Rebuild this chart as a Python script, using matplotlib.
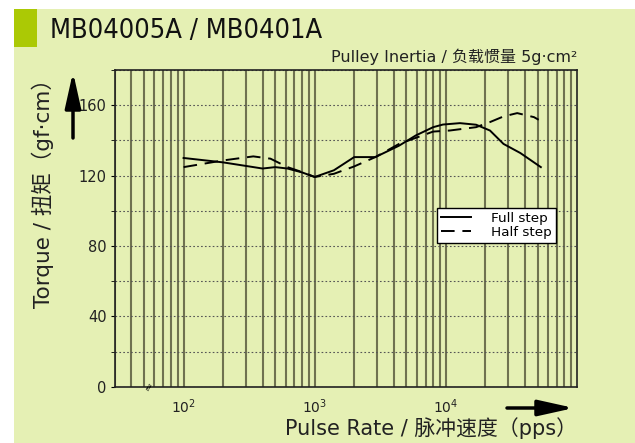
import numpy as np
import matplotlib
matplotlib.use('Agg')
import matplotlib.pyplot as plt
from matplotlib.ticker import LogLocator, MultipleLocator, NullFormatter

plt.rcParams['font.family'] = ['DejaVu Sans', 'Noto Sans CJK SC']

# Data
full_x = [100, 200, 400, 500, 620, 800, 1000, 1400, 2000, 2900, 4400, 5900,
          8000, 9500, 12800, 17000, 21700, 27500, 37000, 53000]
full_y = [130, 127.5, 124, 124.8, 124, 121.8, 119.2, 123, 130.5, 130.5, 137,
          142.8, 147.5, 149, 149.8, 148.9, 145.6, 138, 132.8, 124.8]

half_x = [100, 200, 340, 460, 620, 800, 1000, 1400, 2000, 2900, 4400, 8000,
          10700, 17000, 21700, 27500, 35000, 47000, 51000]
half_y = [124.8, 128.6, 130.9, 129.6, 124.8, 122, 119.2, 121, 125.2, 130.5,
          138, 145, 145.6, 147.5, 150.4, 153.6, 155.5, 153.2, 151.7]

x_ticks = [1e2, 1e3, 1e4]
y_ticks = [0, 40, 80, 120, 160]

bg = '#e5f0b4'
W, H = 635, 443

fig = plt.figure(figsize=(W / 100, H / 100), dpi=100)
fig.patch.set_facecolor('white')

# background panel and green marker
fig.add_artist(plt.Rectangle((14 / W, 0), 1, 1 - 9 / H, transform=fig.transFigure,
                             facecolor=bg, edgecolor='none', zorder=-10))
fig.add_artist(plt.Rectangle((14 / W, 1 - 47 / H), 23 / W, 38 / H, transform=fig.transFigure,
                             facecolor='#abc905', edgecolor='none', zorder=-9))

fig.text(50 / W, 1 - 38 / H, 'MB04005A / MB0401A', fontsize=19.5,
         fontstretch='condensed', color='#111111', va='baseline', ha='left')
fig.text(577 / W, 1 - 62 / H, 'Pulley Inertia / 负载惯量 5g·cm²', fontsize=11.5,
         color='#222222', va='baseline', ha='right')

ax = fig.add_axes([115 / W, 1 - 386.7 / H, 462 / W, 316.7 / H])
ax.set_facecolor(bg)

ax.plot(full_x, full_y, color='black', lw=1.4, label='Full step')
ax.plot(half_x, half_y, color='black', lw=1.4, dashes=(7, 4), label='Half step')

ax.set_xscale('log')
ax.set_xlim(30, 1e5)
ax.set_ylim(0, 180)

ax.set_xticks(x_ticks)
ax.xaxis.set_minor_locator(LogLocator(base=10, subs=np.arange(2, 10), numticks=20))
ax.xaxis.set_minor_formatter(NullFormatter())
ax.set_yticks(y_ticks)
ax.yaxis.set_minor_locator(MultipleLocator(20))

ax.grid(which='both', axis='x', color='#6f7250', lw=1.5, linestyle='-')
ax.grid(which='both', axis='y', color='#555555', lw=0.8, linestyle=(0, (1.5, 2)))
ax.set_axisbelow(True)

ax.tick_params(axis='x', which='both', length=0, pad=8, labelsize=10, labelcolor='#222222')
ax.tick_params(axis='y', which='major', length=3, width=0.8, labelsize=10.5,
               labelcolor='#222222', pad=3)
ax.tick_params(axis='y', which='minor', length=3, width=0.6)
for s in ax.spines.values():
    s.set_color('#222222')
    s.set_linewidth(1.2)

ax.text(55, 0, '≈', rotation=60, fontsize=8, ha='center', va='center', clip_on=False)

leg = ax.legend(loc='upper left', bbox_to_anchor=(0.697, 0.564), fontsize=9.7,
                frameon=True, fancybox=False, edgecolor='black', facecolor='white',
                framealpha=1, handlelength=2.2, handletextpad=1.5, borderpad=0.3,
                labelspacing=0.05, borderaxespad=0)
leg.get_frame().set_linewidth(1.0)

fig.text(43 / W, 1 - 188.5 / H, 'Torque / 扭矩（gf·cm）', rotation=90, fontsize=15.5,
         color='#222222', ha='center', va='center')
fig.text(577 / W, 1 - 428 / H, 'Pulse Rate / 脉冲速度（pps）', fontsize=15,
         color='#222222', ha='right', va='center')

arrow = dict(arrowstyle='-|>,head_length=1.8,head_width=0.4', lw=2.5,
             color='black', mutation_scale=12, shrinkA=0, shrinkB=0)
ax.annotate('', xy=(73 / W, 1 - 72 / H), xytext=(73 / W, 1 - 138 / H),
            xycoords='figure fraction', textcoords='figure fraction', arrowprops=arrow)
ax.annotate('', xy=(574 / W, 1 - 408 / H), xytext=(507 / W, 1 - 408 / H),
            xycoords='figure fraction', textcoords='figure fraction', arrowprops=arrow)

fig.savefig('out.png', dpi=100, facecolor=fig.get_facecolor())
